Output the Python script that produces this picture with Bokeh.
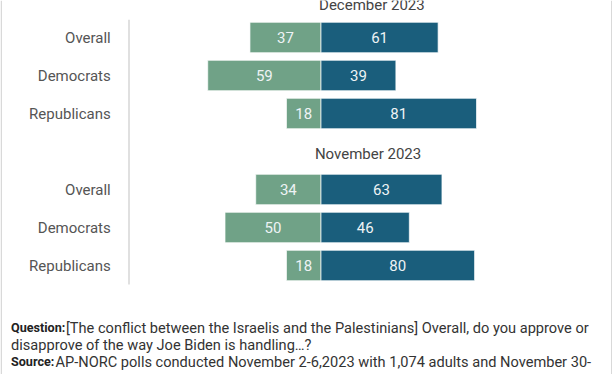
from bokeh.plotting import figure
from bokeh.models import Range1d, ColumnDataSource, Span
from bokeh.core.properties import value
from bokeh.embed import file_html
from bokeh.resources import INLINE

# ---- data ----
periods = ["December 2023", "November 2023"]
groups = ["Overall", "Democrats", "Republicans"]
disapprove_dec = [37, 59, 18]
approve_dec = [61, 39, 81]
disapprove_nov = [34, 50, 18]
approve_nov = [63, 46, 80]

question_label = "Question:"
question_text = "[The conflict between the Israelis and the Palestinians] Overall, do you approve or"
question_text2 = "disapprove of the way Joe Biden is handling\u2026?"
source_label = "Source:"
source_text = "AP-NORC polls conducted November 2-6,2023 with 1,074 adults and November 30-"

GREEN = "#70a287"
BLUE = "#1a5e7c"
FONT = "Roboto"

W, H = 612, 374
PX_PER_UNIT = 1.92
ZERO_PX = 320.5
ROW0_PX = 37.0
ROW_PITCH = 38.0

p = figure(width=W, height=H, output_backend="svg", toolbar_location=None,
           x_range=Range1d(-ZERO_PX / PX_PER_UNIT, (W - ZERO_PX) / PX_PER_UNIT),
           y_range=Range1d((H - ROW0_PX) / ROW_PITCH, -ROW0_PX / ROW_PITCH),
           min_border=0, x_axis_type=None, y_axis_type=None)
p.extra_x_ranges = {"px": Range1d(0, W)}
p.extra_y_ranges = {"px": Range1d(H, 0)}
p.grid.visible = False
p.outline_line_color = None
p.background_fill_color = "white"
p.border_fill_color = "white"

# rows: December at 0..2, November at 4..6, titles at -1 and 3
rows, dis, app, names = [], [], [], []
for block, (d, a) in enumerate([(disapprove_dec, approve_dec), (disapprove_nov, approve_nov)]):
    for i, g in enumerate(groups):
        rows.append(block * 4 + i)
        dis.append(d[i])
        app.append(a[i])
        names.append(g)

src = ColumnDataSource(dict(
    y=rows, dis=[-v for v in dis], app=app,
    dis_mid=[-v / 2 for v in dis], app_mid=[v / 2 for v in app],
    dis_lbl=[str(v) for v in dis], app_lbl=[str(v) for v in app],
    name=names, zero=[0] * len(rows),
))

p.hbar(y="y", left="dis", right="zero", height=0.8, source=src,
       fill_color=GREEN, line_color="white", line_alpha=0.7, line_width=1)
p.hbar(y="y", left="zero", right="app", height=0.8, source=src,
       fill_color=BLUE, line_color="white", line_alpha=0.7, line_width=1)

lbl_kw = dict(text_font=value(FONT), text_font_size="15px", text_color="#eef3f5",
              text_align="center", text_baseline="middle", source=src)
p.text(x="dis_mid", y="y", text="dis_lbl", **lbl_kw)
p.text(x="app_mid", y="y", text="app_lbl", **lbl_kw)

# category labels
p.text(x=-109.5, y="y", text="name", source=src, text_font=value(FONT),
       text_font_size="15px", text_color="#555555", text_align="right",
       text_baseline="middle")

# period titles
p.text(x=[26.5, 24.5], y=[-0.85, 3.07], text=periods, text_font=value(FONT),
       text_font_size="15px", text_color="#444444", text_align="center",
       text_baseline="alphabetic")

# left rule for category axis
p.segment(x0=[-100], y0=[-0.47], x1=[-100], y1=[6.5], line_color="#d6d6d6", line_width=1.5)

# page border lines
for loc in (0.75, 611.25):
    p.add_layout(Span(location=loc, dimension="height", x_range_name="px",
                      line_color="#d9d9d9", line_width=1.5))

# footer
fkw = dict(x_range_name="px", y_range_name="px", text_font=value(FONT),
           text_baseline="alphabetic", text_align="left")
p.text(x=[10.5, 10.5], y=[327, 361], text=[question_label, source_label],
       text_color="#222222", text_font_style="bold", text_font_size="12.6px", **fkw)
p.text(x=[65.5, 55, 10.5], y=[327, 361, 344],
       text=[question_text, source_text, question_text2], text_color="#333333",
       text_font_size="14.6px", **fkw)

open("out.html", "w").write(file_html(p, INLINE))
